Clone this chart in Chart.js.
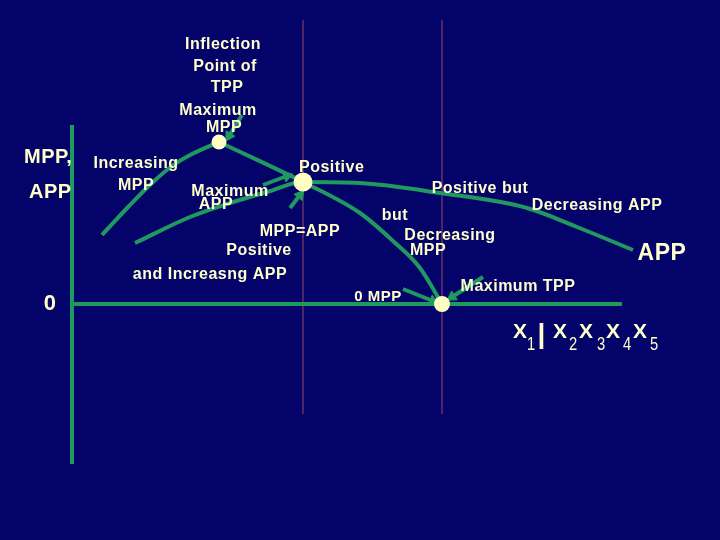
<!DOCTYPE html>
<html>
<head>
<meta charset="utf-8">
<script src="https://cdn.jsdelivr.net/npm/chart.js@4.4.0/dist/chart.umd.min.js"></script>
<style>
  html, body { margin: 0; padding: 0; background: #03036a; }
  #wrap { width: 720px; height: 540px; }
</style>
</head>
<body>
<div id="wrap"><canvas id="c" width="720" height="540"></canvas></div>
<script>
// units: x = input, y = product, origin at the axes corner
const mppRiseX = [30, 58, 80, 100, 120, 147];
const mppRiseY = [69, 99, 121, 138, 150, 162];
const mppFallX = [147, 231, 288, 321, 348, 370];
const mppFallY = [162, 122, 91, 63, 36, 0];
const appX = [63, 118, 158, 195, 231, 288, 368, 455, 505, 561];
const appY = [61, 87, 101, 112, 122, 121, 111, 96, 77, 54];
const keyX = [147, 231, 370];
const keyY = [162, 122, 0];
const keyR = [7.5, 9.5, 8];
const guideX = [231, 370];

// arrows: [tailX, tailY, headX, headY]
const arrows = [
  [170, 189, 157, 168],
  [191, 119, 215, 128],
  [218, 96, 228, 109],
  [331, 15, 361, 3],
  [411, 27, 380, 7],
];

const labels = [
  { t: 'Inflection', x: 151, y: 261 },
  { t: 'Point of', x: 153, y: 239 },
  { t: 'TPP', x: 155, y: 218 },
  { t: 'Maximum', x: 146, y: 195 },
  { t: 'MPP', x: 152, y: 178 },
  { t: 'MPP,', x: -48, y: 148, size: 20, align: 'left' },
  { t: 'APP', x: -43, y: 113, size: 20, align: 'left' },
  { t: '0', x: -22, y: 2, size: 22 },
  { t: 'Increasing', x: 64, y: 142 },
  { t: 'MPP', x: 64, y: 120 },
  { t: 'Maximum', x: 158, y: 114 },
  { t: 'APP', x: 144, y: 101 },
  { t: 'Positive', x: 227, y: 138, align: 'left' },
  { t: 'MPP=APP', x: 228, y: 74 },
  { t: 'Positive', x: 187, y: 55 },
  { t: 'and Increasng APP', x: 138, y: 31 },
  { t: 'Positive but', x: 408, y: 117 },
  { t: 'Decreasing APP', x: 525, y: 100 },
  { t: 'but', x: 323, y: 90 },
  { t: 'Decreasing', x: 378, y: 70 },
  { t: 'MPP', x: 356, y: 55 },
  { t: 'APP', x: 590, y: 52, size: 23 },
  { t: 'Maximum TPP', x: 446, y: 19 },
  { t: '0 MPP', x: 306, y: 8, size: 15 },
];

// x-axis caption: text, kind, offset from its left edge
const xCaption = [
  ['X', 'big', 0], ['1', 'sub', 14], ['|', 'bar', 28.5], ['X', 'big', 40], ['2', 'sub', 56],
  ['X', 'big', 66], ['3', 'sub', 84], ['X', 'big', 93], ['4', 'sub', 110], ['X', 'big', 120], ['5', 'sub', 137],
];

const GREEN = '#1f9960';
const CREAM = '#ffffcc';
const zip = (xs, ys) => xs.map((x, i) => ({ x, y: ys[i] }));

function line(data, extra = {}) {
  return Object.assign({
    type: 'line', data, borderColor: GREEN, borderWidth: 4,
    pointRadius: 0, fill: false, clip: false, tension: 0, order: 5,
  }, extra);
}

const datasets = [];
guideX.forEach((gx) => datasets.push(line([{ x: gx, y: -110 }, { x: gx, y: 284 }], { borderColor: '#9a4a66', borderWidth: 1, order: 10 })));
datasets.push(line([{ x: 0, y: -160 }, { x: 0, y: 179 }]));
datasets.push(line([{ x: 0, y: 0 }, { x: 550, y: 0 }]));
datasets.push(line(zip(mppRiseX, mppRiseY), { tension: 0.4, cubicInterpolationMode: 'monotone' }));
datasets.push(line(zip(mppFallX, mppFallY), { tension: 0.4, cubicInterpolationMode: 'monotone' }));
datasets.push(line(zip(appX, appY), { tension: 0.4, cubicInterpolationMode: 'monotone' }));
arrows.forEach(([x0, y0, x1, y1]) => {
  const rot = Math.atan2(-(y1 - y0), x1 - x0) * 180 / Math.PI + 90;
  datasets.push(line([{ x: x0, y: y0 }, { x: x1, y: y1 }], {
    borderWidth: 4, pointStyle: 'triangle', pointRadius: [0, 6],
    pointRotation: rot, pointBackgroundColor: GREEN, pointBorderColor: GREEN, pointBorderWidth: 1,
  }));
});
datasets.push({
  type: 'scatter', data: zip(keyX, keyY), pointRadius: keyR, order: 0,
  pointBackgroundColor: '#ffffc4', pointBorderColor: '#ffffc4', pointBorderWidth: 0, clip: false,
});

const bgPlugin = {
  id: 'bg',
  beforeDraw(chart) {
    const { ctx, width, height } = chart;
    ctx.save();
    ctx.fillStyle = '#03036a';
    ctx.fillRect(0, 0, width, height);
    ctx.restore();
  },
};

const textPlugin = {
  id: 'texts',
  afterDatasetsDraw(chart) {
    const { ctx, scales } = chart;
    ctx.save();
    ctx.fillStyle = CREAM;
    ctx.letterSpacing = '0.5px';
    ctx.textBaseline = 'alphabetic';
    labels.forEach((l) => {
      const size = l.size || 16;
      ctx.font = `bold ${size}px "Liberation Sans", Arial, sans-serif`;
      ctx.textAlign = l.align || 'center';
      ctx.fillText(l.t, scales.x.getPixelForValue(l.x), scales.y.getPixelForValue(l.y) + size * 0.36);
    });

    // X1 | X2X3X4X5
    ctx.letterSpacing = '0px';
    const left = scales.x.getPixelForValue(441);
    const base = scales.y.getPixelForValue(-34);
    xCaption.forEach(([s, kind, dx]) => {
      if (kind === 'sub') {
        ctx.save();
        ctx.font = '18px "Liberation Sans", Arial, sans-serif';
        ctx.textAlign = 'left';
        ctx.translate(left + dx, base + 12);
        ctx.scale(0.82, 1);
        ctx.fillText(s, 0, 0);
        ctx.restore();
      } else if (kind === 'bar') {
        ctx.font = 'bold 28px "Liberation Sans", Arial, sans-serif';
        ctx.textAlign = 'center';
        ctx.fillText(s, left + dx, base + 5);
      } else {
        ctx.font = 'bold 21px "Liberation Sans", Arial, sans-serif';
        ctx.textAlign = 'left';
        ctx.fillText(s, left + dx, base);
      }
    });
    ctx.restore();
  },
};

new Chart(document.getElementById('c'), {
  type: 'scatter',
  data: { datasets },
  options: {
    responsive: false,
    animation: false,
    layout: { padding: 0, autoPadding: false },
    plugins: { legend: { display: false }, tooltip: { enabled: false } },
    scales: {
      x: { type: 'linear', min: -72, max: 648, display: false },
      y: { type: 'linear', min: -236, max: 304, display: false },
    },
  },
  plugins: [bgPlugin, textPlugin],
});
</script>
</body>
</html>
